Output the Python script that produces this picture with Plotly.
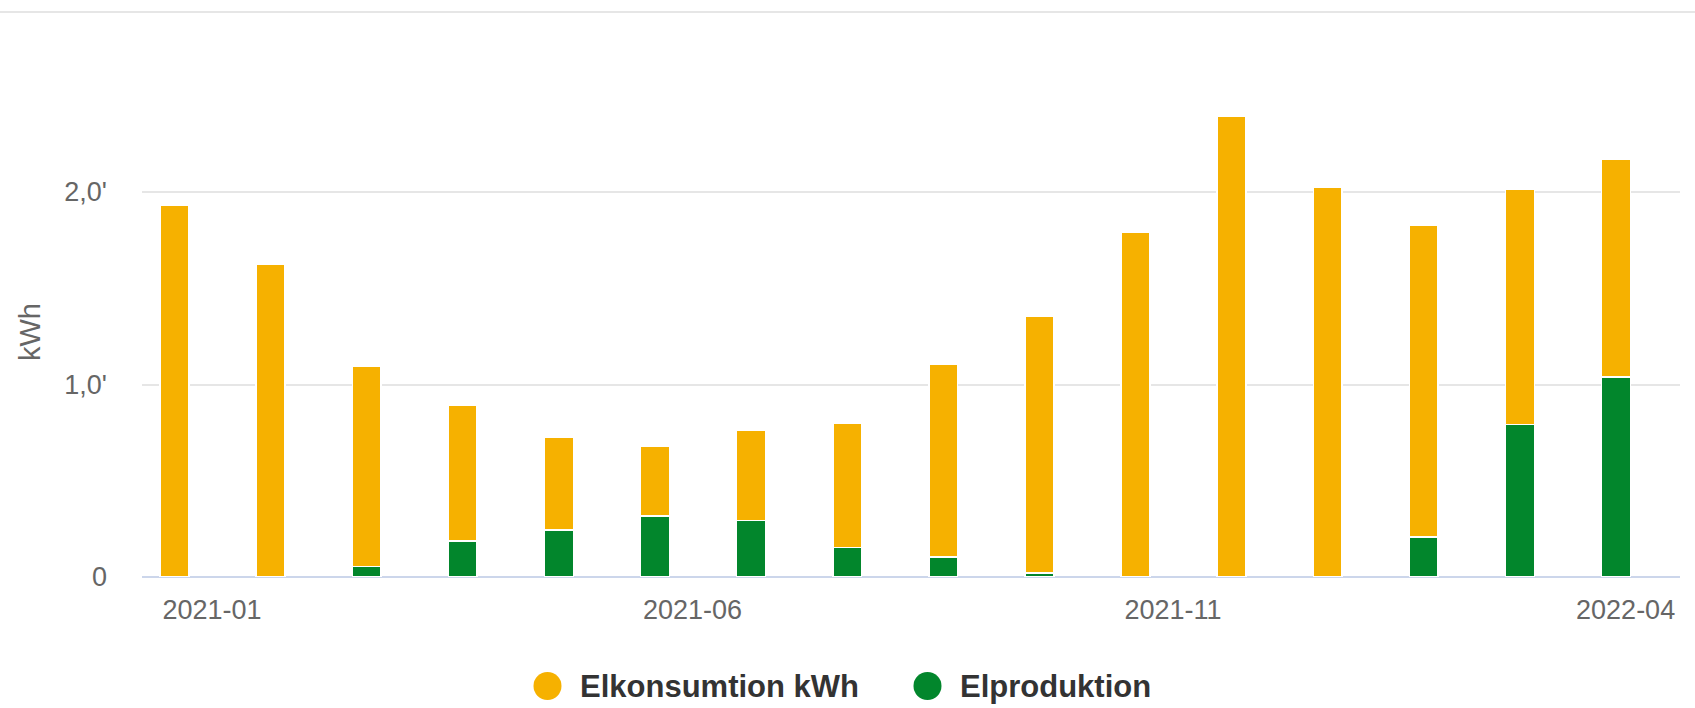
import plotly.graph_objects as go

months = ["2021-01", "2021-02", "2021-03", "2021-04", "2021-05", "2021-06",
          "2021-07", "2021-08", "2021-09", "2021-10", "2021-11", "2021-12",
          "2022-01", "2022-02", "2022-03", "2022-04"]
# stacked segments (thousand kWh)
elproduktion = [0, 0, 0.055, 0.186, 0.245, 0.316, 0.293, 0.152,
                0.103, 0.02, 0, 0, 0, 0.209, 0.792, 1.039]
elkonsumtion = [1.933, 1.625, 1.039, 0.705, 0.481, 0.364, 0.470, 0.645,
                1.002, 1.333, 1.791, 2.394, 2.027, 1.617, 1.224, 1.132]
y_tickvals = [0, 1, 2]
y_ticktext = ["0", "1,0'", "2,0'"]
x_label_months = ["2021-01", "2021-06", "2021-11", "2022-04"]

YELLOW = "#f6b100"
GREEN = "#02862c"
FONT = "Liberation Sans, Arial, Helvetica, sans-serif"

W, H = 1695, 708
ML, MR, MT, MB = 142, 15, 60, 131
PW, PH = W - ML - MR, H - MT - MB

xs = list(range(len(months)))

fig = go.Figure()
fig.add_trace(go.Bar(x=xs, y=elproduktion, name="Elproduktion",
                     marker=dict(color=GREEN, line=dict(color="white", width=1.5)),
                     width=0.3, showlegend=False))
fig.add_trace(go.Bar(x=xs, y=elkonsumtion, name="Elkonsumtion kWh",
                     marker=dict(color=YELLOW, line=dict(color="white", width=1.5)),
                     width=0.3, showlegend=False))

# tick positions: labels sit slightly right of the bar centre (last one pulled inside)
tick_offsets = [0.39, 0.39, 0.39, 0.10]
x_tickvals = [months.index(m) + o for m, o in zip(x_label_months, tick_offsets)]


def px_x(p):
    return (p - ML) / PW


def px_y(p):
    return (H - MB - p) / PH


fig.update_layout(
    width=W, height=H,
    margin=dict(l=ML, r=MR, t=MT, b=MB, pad=0),
    barmode="stack",
    plot_bgcolor="white", paper_bgcolor="white",
    font=dict(family=FONT, color="#666666"),
    xaxis=dict(range=[-0.338, 15.666], tickvals=x_tickvals, ticktext=x_label_months,
               showgrid=False, zeroline=False, showline=False, ticks="",
               tickfont=dict(size=27, color="#666666"), ticklabelstandoff=14),
    yaxis=dict(range=[0, PH / 192.5], tickvals=y_tickvals, ticktext=y_ticktext,
               showgrid=True, gridcolor="#e6e6e6", gridwidth=1.5,
               zeroline=True, zerolinecolor="#ccd6eb", zerolinewidth=2,
               showline=False, ticks="",
               tickfont=dict(size=27, color="#666666"), ticklabelstandoff=34),
    showlegend=False,
)

shapes = [
    dict(type="line", xref="paper", yref="paper", x0=px_x(0), x1=px_x(W),
         y0=px_y(12), y1=px_y(12), line=dict(color="#e6e6e6", width=2)),
]
legend_items = [("Elkonsumtion kWh", YELLOW, 547.5, 578),
                ("Elproduktion", GREEN, 927.5, 958)]
annotations = [
    dict(text="kWh", xref="paper", yref="paper", x=px_x(30), y=px_y(332),
         xanchor="center", yanchor="middle", textangle=-90, showarrow=False,
         font=dict(size=29, color="#666666", family=FONT)),
]
for label, col, cx, tx in legend_items:
    shapes.append(dict(type="circle", xref="paper", yref="paper",
                       xsizemode="pixel", ysizemode="pixel",
                       xanchor=px_x(cx), yanchor=px_y(686),
                       x0=-14, x1=14, y0=-14, y1=14,
                       fillcolor=col, line=dict(width=0)))
    annotations.append(dict(text=label, xref="paper", yref="paper",
                            x=px_x(tx), y=px_y(686), xanchor="left", yanchor="middle",
                            showarrow=False,
                            font=dict(size=31, color="#333333", family=FONT, weight="bold")))

fig.update_layout(shapes=shapes, annotations=annotations)
fig.write_html("out.html")
